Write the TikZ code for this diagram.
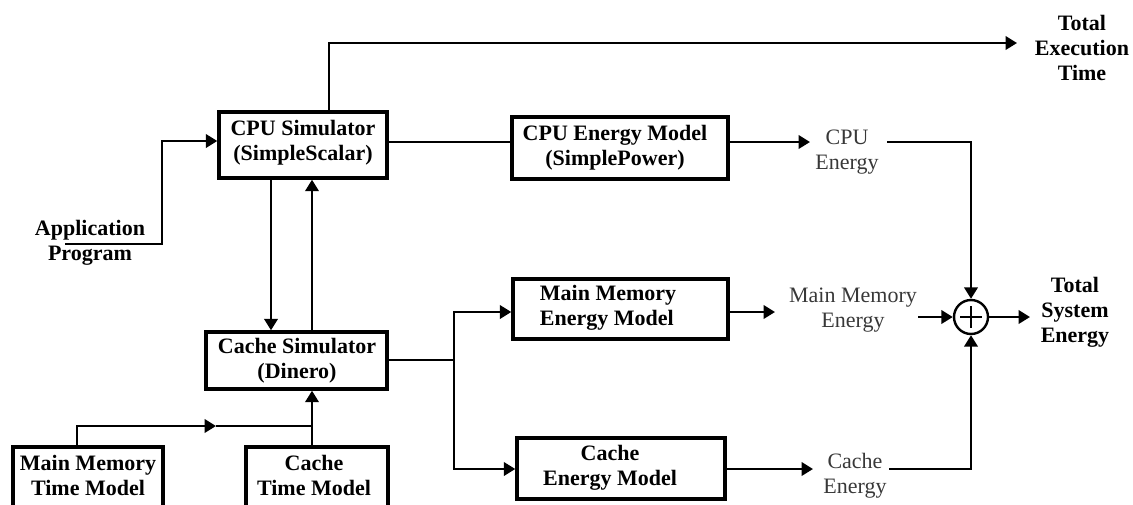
\documentclass[tikz,border=0pt]{standalone}
\usepackage{fontspec}
\setmainfont{Liberation Serif}
\usetikzlibrary{arrows.meta}
\begin{document}
\begin{tikzpicture}[x=0.75pt,y=-0.75pt,
  box/.style={draw, line width=2.6pt, rectangle, inner sep=0pt},
  blbl/.style={align=center, inner sep=0pt, font=\fontsize{16.5}{18.75}\selectfont\bfseries},
  olbl/.style={align=center, inner sep=0pt, text=black!78, font=\fontsize{16.5}{18.75}\selectfont},
  conn/.style={line width=1.8pt},
  arr/.style={conn, -{Triangle[length=8.5pt,width=10pt]}},
]
\clip (0,0) rectangle (1133,504);
% boxes
\node[box, minimum width=126pt, minimum height=49.5pt] (cpusim) at (303,145) {};
\node[box, minimum width=135.75pt, minimum height=42.75pt] (cachesim) at (296.5,360.5) {};
\node[box, minimum width=162pt, minimum height=46.5pt] (cpuen) at (620,148) {};
\node[box, minimum width=161.25pt, minimum height=45pt] (mmen) at (620.5,309) {};
\node[box, minimum width=156pt, minimum height=45.75pt] (caen) at (621,468.5) {};
\node[box, minimum width=112.5pt, minimum height=54.75pt] (mmtime) at (88,483.5) {};
\node[box, minimum width=106.5pt, minimum height=54.75pt] (cachetime) at (317,483.5) {};
\node[circle, draw, line width=1.8pt, minimum size=25.5pt, inner sep=0pt] (sum) at (971,317) {};
\draw[line width=1.3pt] ([xshift=-8pt]sum.center) -- ([xshift=8pt]sum.center);
\draw[line width=1.3pt] ([yshift=-8pt]sum.center) -- ([yshift=8pt]sum.center);
% labels
\node[blbl] (cpusimL) at (303,143) {CPU Simulator\\(SimpleScalar)};
\node[blbl] (cachesimL) at (297,361) {Cache Simulator\\(Dinero)};
\node[blbl] (cpuenL) at (615,148) {CPU Energy Model\\(SimplePower)};
\node[blbl, align=left] (mmenL) at (608,308) {Main Memory\\Energy Model};
\node[blbl] (caenL) at (610,468) {Cache\\Energy Model};
\node[blbl] (mmtimeL) at (88,475) {Main Memory\\Time Model};
\node[blbl] (cachetimeL) at (314,475) {Cache\\Time Model};
\node[blbl] (app) at (90,243) {Application\\Program};
\node[blbl] (totexec) at (1082,48) {Total\\Execution\\Time};
\node[blbl] (totsys) at (1075,312) {Total\\System\\Energy};
\node[olbl] (cpuE) at (847,152) {CPU\\Energy};
\node[olbl] (mmE) at (853,310) {Main Memory\\Energy};
\node[olbl] (caE) at (855,476) {Cache\\Energy};
% free ends
\coordinate (appin) at (65,244);
\coordinate (texend) at (1017,43);
% connectors
\draw[arr] (appin) -| (162,141) -- (cpusim.west |- 0,141);
\draw[arr] (cpusim.north -| 329,0) |- (texend);
\draw[arr] (cpusim.south -| 271,0) -- (cachesim.north -| 271,0);
\draw[arr] (cachesim.north -| 312,0) -- (cpusim.south -| 312,0);
\draw[conn] (cpusim.east |- 0,142) -- (cpuen.west |- 0,142);
\draw[arr] (cpuen.east |- 0,142) -- (810,142);
\draw[arr] (887,142) -| (sum.north);
\draw[conn] (cachesim.east |- 0,360) -- (454,360);
\draw[arr] (454,360) |- (mmen.west |- 0,312);
\draw[arr] (454,360) |- (caen.west |- 0,469);
\draw[arr] (mmen.east |- 0,312) -- (775,312);
\draw[arr] (918,317) -- (sum.west);
\draw[arr] (caen.east |- 0,469) -- (813,469);
\draw[arr] (889,469) -| (sum.south);
\draw[arr] (sum.east) -- (1030,317);
\draw[arr] (mmtime.north -| 77,0) |- (216,426);
\draw[conn] (216,426) -- (312,426);
\draw[arr] (cachetime.north -| 312,0) -- (cachesim.south -| 312,0);
\end{tikzpicture}
\end{document}
